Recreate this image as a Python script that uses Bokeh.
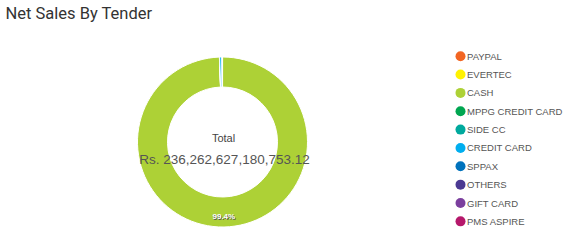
import numpy as np
from bokeh.plotting import figure
from bokeh.models import Range1d, ColumnDataSource
from bokeh.core.properties import value
from bokeh.embed import file_html
from bokeh.resources import INLINE

tenders = ["PAYPAL", "EVERTEC", "CASH", "MPPG CREDIT CARD", "SIDE CC",
           "CREDIT CARD", "SPPAX", "OTHERS", "GIFT CARD", "PMS ASPIRE"]
shares = [0.01, 0.01, 99.4, 0.02, 0.02, 0.46, 0.03, 0.02, 0.02, 0.01]
colors = ["#f26522", "#fff200", "#add136", "#00a651", "#00a99d",
          "#00aeef", "#0072bc", "#4b3a93", "#7b3f9e", "#b5186b"]
total_label = "Rs. 236,262,627,180,753.12"
title = "Net Sales By Tender"

W, H = 569, 242
p = figure(width=W, height=H, output_backend="svg", toolbar_location=None,
           x_range=Range1d(0, W), y_range=Range1d(0, H), min_border=0)
p.axis.visible = False
p.grid.visible = False
p.outline_line_color = None
p.background_fill_color = "white"
p.border_fill_color = "white"

def Y(py):
    return H - py

cx, cy = 222, 141.5
r_out, r_in = 85, 55

frac = np.array(shares) / sum(shares)
cum = np.concatenate([[0], np.cumsum(frac)])
start = np.pi / 2 - cum[:-1] * 2 * np.pi
end = np.pi / 2 - cum[1:] * 2 * np.pi

src = ColumnDataSource(dict(start=start, end=end, color=colors))
p.annular_wedge(x=cx, y=Y(cy), inner_radius=r_in, outer_radius=r_out,
                start_angle="start", end_angle="end", direction="clock",
                fill_color="color", line_color="white", line_width=1, source=src)

# percentage label for CASH
ci = tenders.index("CASH")
mid = (start[ci] + end[ci]) / 2
lr = 75
lx, ly = cx + lr * np.cos(mid), Y(cy) + lr * np.sin(mid)
pct = f"{shares[ci]:.1f}%"
p.text(x=[lx + 0.8], y=[ly - 0.8], text=[pct], text_font=value("Liberation Sans"),
       text_font_size="8px", text_font_style="bold", text_color="#555555",
       text_align="center", text_baseline="middle")
p.text(x=[lx], y=[ly], text=[pct], text_font=value("Liberation Sans"),
       text_font_size="8px", text_font_style="bold", text_color="white",
       text_align="center", text_baseline="middle")

# center texts
p.text(x=[cx + 1], y=[Y(137)], text=["Total"], text_font=value("Liberation Sans"),
       text_font_size="11px", text_color="#444444", text_align="center",
       text_baseline="middle")
p.text(x=[cx + 2], y=[Y(159)], text=[total_label], text_font=value("Liberation Sans"),
       text_font_size="13.5px", text_color="#555555", text_align="center",
       text_baseline="middle")

# title
p.text(x=[5], y=[Y(13)], text=[title], text_font=value("Roboto"),
       text_font_size="16.5px", text_color="#333333", text_align="left",
       text_baseline="middle")

# legend
ly0, ldy = 55.7, 18.35
ys = [Y(ly0 + i * ldy) for i in range(len(tenders))]
p.scatter(x=[460] * len(tenders), y=ys, size=10, marker="circle",
          fill_color=colors, line_color=None)
p.text(x=[466.5] * len(tenders), y=ys, text=tenders,
       text_font=value("Liberation Sans"), text_font_size="9.5px",
       text_color="#555555", text_align="left", text_baseline="middle")

open("out.html", "w").write(file_html(p, INLINE))
